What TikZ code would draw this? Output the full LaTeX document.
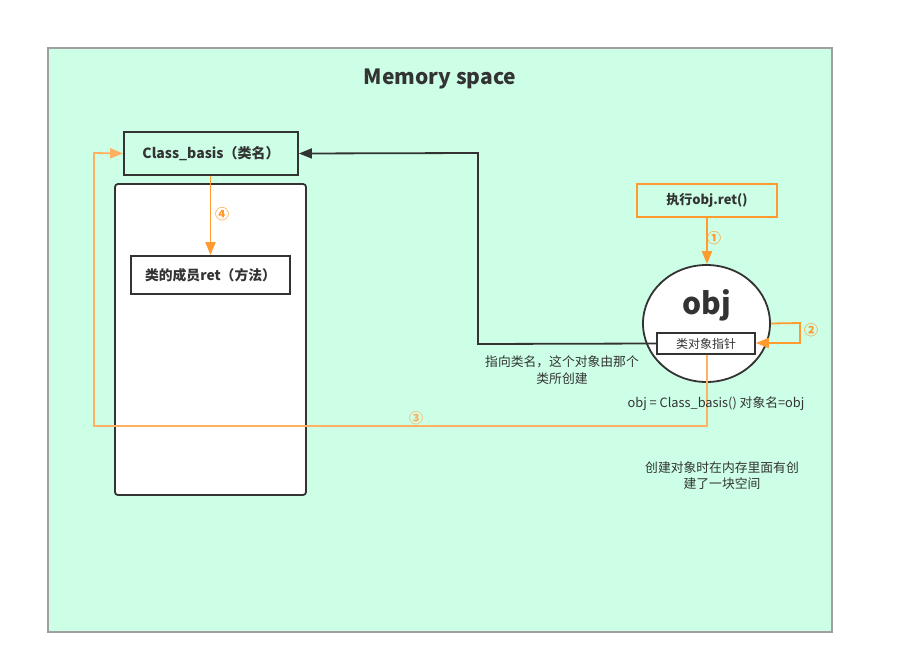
\documentclass[tikz,border=0pt]{standalone}
\usepackage{fontspec}
\setmainfont{Noto Sans CJK SC}
\usetikzlibrary{arrows.meta,shapes.geometric,positioning}
\definecolor{mint}{HTML}{CCFFE6}
\definecolor{framegray}{HTML}{A0A0A0}
\definecolor{dark}{HTML}{333333}
\definecolor{orng}{HTML}{FF9A2E}
\definecolor{lorng}{HTML}{FFB060}
\tikzset{
  box/.style={draw=dark, line width=1.8pt, inner sep=0pt, font=\bfseries\fontsize{14}{16}\selectfont, text=dark},
  oarrow/.style={draw=orng, line width=1.8pt, -{Triangle[length=13pt,width=10pt]}},
  darrow/.style={draw=dark, line width=1.8pt, -{Triangle[length=13pt,width=10pt]}},
  lbl/.style={text=orng, font=\bfseries\fontsize{14}{16}\selectfont, inner sep=0pt},
  note/.style={text=dark, font=\fontsize{12.8}{16.5}\selectfont, align=center, inner sep=0pt},
}
\begin{document}
\begin{tikzpicture}[x=1pt,y=-1pt]
\useasboundingbox (0,0) rectangle (924,664);
\fill[white] (0,0) rectangle (924,664);
\draw[framegray, fill=mint, line width=1.8pt] (48,48) rectangle (832,632);
\node[text=dark, font=\bfseries\fontsize{21}{24}\selectfont] (title) at (440,79) {Memory space};

\draw[dark, fill=white, line width=1.8pt, rounded corners=3pt] (115,184) rectangle (306,495);

\node[box, fill=mint, minimum width=174pt, minimum height=43pt] (cls) at (211,153.5) {Class\_basis（类名）};
\node[box, fill=white, minimum width=159pt, minimum height=38pt, font=\bfseries\fontsize{13.8}{16}\selectfont] (mem) at (210.5,275) {类的成员ret（方法）};

\node[box, draw=orng, fill=mint, minimum width=140pt, minimum height=33pt, font=\bfseries\fontsize{13}{15}\selectfont] (exec) at (707,200.5) {执行obj.ret()};

\node[ellipse, draw=dark, line width=1.8pt, fill=white, minimum width=127pt, minimum height=117pt] (obj) at (706.5,323.5) {};
\node[text=dark, font=\bfseries\fontsize{30}{34}\selectfont, inner sep=0pt] (objt) at (707,305) {obj};
\node[box, fill=white, minimum width=98pt, minimum height=21pt, font=\fontsize{12}{14}\selectfont] (ptr) at (706,343.5) {类对象指针};

% step 4
\draw[oarrow] (cls.south -| mem.north) -- (mem.north);
\node[lbl] (l4) at (222,214) {④};
% step 1
\draw[oarrow] (exec.south) -- (obj.north -| exec.south);
\node[lbl] (l1) at (714,238) {①};
% step 2
\coordinate (c2a) at (800,323);
\coordinate (c2b) at (800,343);
\draw[oarrow] (obj.east) -- (c2a) -- (c2b) -- (ptr.east |- c2b);
\node[lbl] (l2) at (811,330) {②};
% pointer to class
\coordinate (d1) at (478,344);
\coordinate (d2) at (478,153);
\draw[darrow] (ptr.west) -- (d1) -- (d2) -- (cls.east);
% step 3
\coordinate (o1) at (707,426);
\coordinate (o2) at (94,426);
\coordinate (o3) at (94,153);
\draw[draw=lorng, line width=1.8pt, -{Triangle[length=13pt,width=10pt]}] (ptr.south -| o1) -- (o1) -- (o2) -- (o3) -- (cls.west);
\node[lbl, text=lorng] (l3) at (416,418) {③};

\node[note] (n1) at (562,370) {指向类名，这个对象由那个\\类所创建};
\node[note] (n2) at (716,404) {obj = Class\_basis() 对象名=obj};
\node[note] (n3) at (722,475.5) {创建对象时在内存里面有创\\建了一块空间};
\end{tikzpicture}
\end{document}
